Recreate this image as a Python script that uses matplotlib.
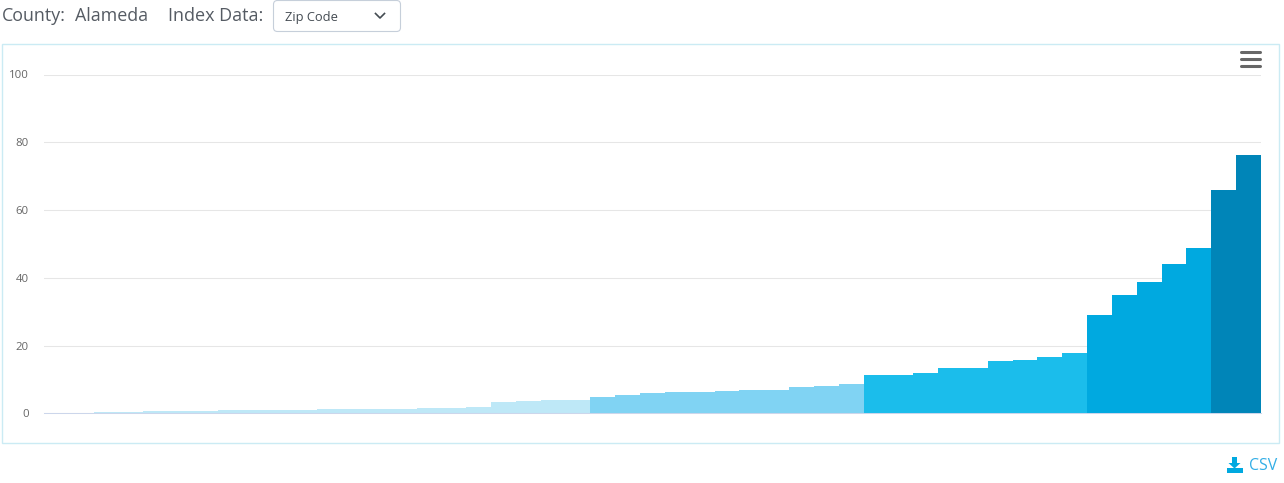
import numpy as np
import matplotlib
matplotlib.use("Agg")
import matplotlib.pyplot as plt
from matplotlib.patches import FancyBboxPatch, Rectangle, Polygon

plt.rcParams['font.family'] = ['Open Sans', 'DejaVu Sans']

W, H = 1284, 483

# bar heights, sorted, one per zip code
values_q1 = [0.05, 0.05, 0.4, 0.4, 0.7, 0.7, 0.7, 1.0, 1.0, 1.0, 1.0,
             1.3, 1.3, 1.3, 1.3, 1.6, 1.6, 1.9, 3.3, 3.6, 3.9, 3.9]
values_q2 = [4.8, 5.4, 6.0, 6.3, 6.3, 6.6, 6.9, 6.9, 7.8, 8.1, 8.7]
values_q3 = [11.2, 11.2, 11.8, 13.3, 13.3, 15.4, 15.7, 16.5, 17.7]
values_q4 = [29.0, 35.0, 38.7, 44.2, 48.9]
values_q5 = [65.9, 76.2]
groups = [values_q1, values_q2, values_q3, values_q4, values_q5]
group_colors = ['#bee8f7', '#80d3f3', '#1bbdeb', '#00a9e0', '#0085b8']
y_ticks = [0, 20, 40, 60, 80, 100]

fig = plt.figure(figsize=(W / 100, H / 100), dpi=100, facecolor='white')

# page furniture, in pixel coords
bg = fig.add_axes([0, 0, 1, 1])
bg.set_xlim(0, W)
bg.set_ylim(H, 0)
bg.axis('off')

bg.add_patch(Rectangle((1.9, 43.9), 1277, 399, fc='white', ec='#cbebf4', lw=1.0))

label_col = '#555b63'
bg.text(2, 21, 'County:', fontsize=12.9, color=label_col, va='baseline')
bg.text(75, 21, 'Alameda', fontsize=12.9, color=label_col, va='baseline')
bg.text(168, 21, 'Index Data:', fontsize=13.0, color=label_col, va='baseline')

bg.add_patch(FancyBboxPatch((276.5, 3.5), 121, 25, boxstyle='round,pad=3,rounding_size=4',
                            fc='white', ec='#c6cfda', lw=0.8))
bg.text(285, 21, 'Zip Code', fontsize=9.3, color='#444b52', va='baseline')
bg.plot([375.5, 380, 384.5], [13.5, 18, 13.5], color='#444b52', lw=1.2)

# hamburger menu
for y in [52.3, 59.3, 66.3]:
    bg.plot([1240.5, 1259.5], [y, y], color='#666666', lw=2.2, solid_capstyle='round')

# csv link
bg.add_patch(Polygon([(1232, 457), (1237, 457), (1237, 463), (1240.5, 463), (1234.5, 468.5),
                      (1228.5, 463), (1232, 463)], fc='#00a9e0', ec='none'))
bg.add_patch(Rectangle((1226.5, 468), 16, 4.5, fc='#00a9e0', ec='none'))
bg.text(1249.5, 470.5, 'CSV', fontsize=11.4, color='#33aee6', va='baseline')

# chart itself
left, right = 44, 1261
y0, y100 = 413.3, 74.5
ax = fig.add_axes([left / W, 1 - y0 / H, (right - left) / W, (y0 - y100) / H])
ax.patch.set_alpha(0)

values = [v for g in groups for v in g]
colors = [c for g, c in zip(groups, group_colors) for _ in g]
ax.bar(np.arange(len(values)), values, width=1.0, color=colors, linewidth=0, zorder=3)

ax.set_xlim(-0.5, len(values) - 0.5)
ax.set_ylim(0, 100)
ax.set_xticks([])
ax.set_yticks(y_ticks)
ax.grid(axis='y', color='#e6e6e6', lw=0.75, zorder=0)
ax.tick_params(axis='y', length=0, pad=11, labelsize=8.2, labelcolor='#666666')
for lab in ax.get_yticklabels():
    lab.set_ha('right')
    lab.set_va('center_baseline')
for s in ['top', 'right', 'left']:
    ax.spines[s].set_visible(False)
ax.spines['bottom'].set_color('#ccd6eb')
ax.spines['bottom'].set_linewidth(0.75)
ax.spines['bottom'].set_zorder(4)

fig.savefig('out.png', dpi=100)
